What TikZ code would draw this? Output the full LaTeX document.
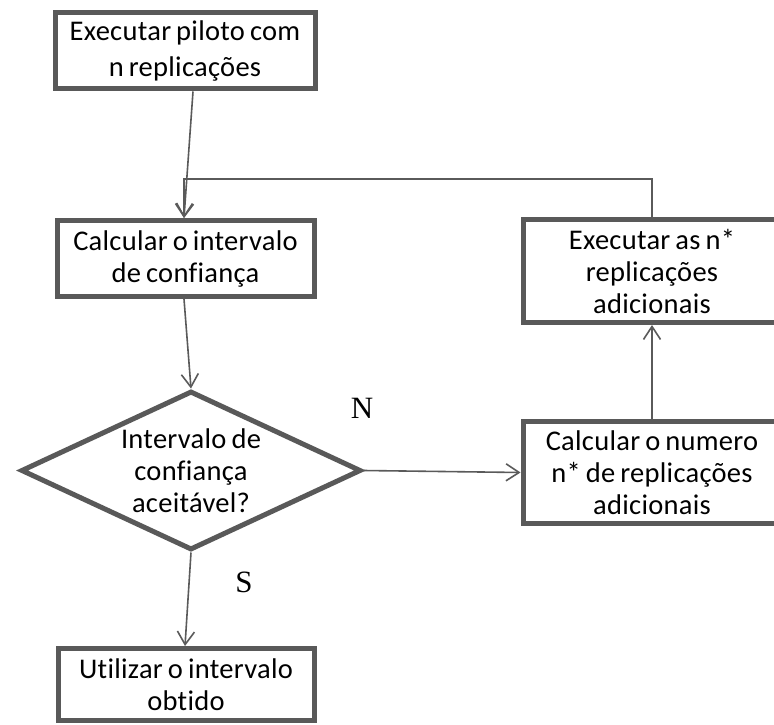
\documentclass[tikz,border=0pt]{standalone}
\usepackage{fontspec}
\setmainfont[Ligatures=NoCommon, LetterSpace=1, WordSpace=0.75]{Carlito}
\newfontfamily\labelfont{Liberation Serif}
\usetikzlibrary{shapes.geometric,arrows.meta}
\definecolor{boxgray}{HTML}{595959}
\definecolor{linegray}{HTML}{5A5A5A}
\begin{document}
\begin{tikzpicture}[x=1pt,y=-1pt,
  stepbox/.style={draw=boxgray, line width=5pt, rectangle, inner sep=0pt,
    align=center, font=\fontsize{28.5}{32}\selectfont},
  decision/.style={draw=boxgray, line width=5pt, diamond, inner sep=0pt},
  steptext/.style={align=center, inner sep=0pt, font=\fontsize{28.5}{32}\selectfont},
  conn/.style={draw=linegray, line width=1.6pt,
    -{Straight Barb[length=13pt,width=17pt,line width=1.6pt]}},
  answer/.style={inner sep=0pt, font=\labelfont\fontsize{31}{34}\selectfont}]
  \clip (0,0) rectangle (774,725);
  \fill[white] (0,0) rectangle (774,725);

  % process boxes
  \node[stepbox, minimum width=260pt, minimum height=76pt, font=\fontsize{28.5}{36}\selectfont] (piloto) at (185,51)
    {Executar piloto com\\n replicações};
  \node[stepbox, minimum width=257pt, minimum height=76pt] (calcic) at (185.5,258.5)
    {Calcular o intervalo\\de confiança};
  \node[stepbox, minimum width=258pt, minimum height=103pt] (execadd) at (652,271)
    {Executar as n*\\replicações\\adicionais};
  \node[stepbox, minimum width=258pt, minimum height=102pt] (calcn) at (652,472.5)
    {Calcular o numero\\n* de replicações\\adicionais};
  \node[stepbox, minimum width=256pt, minimum height=72pt] (utilizar) at (186,684.5)
    {Utilizar o intervalo\\obtido};

  % decision
  \node[decision, minimum width=340pt, minimum height=159pt] (aceita) at (191,470.5) {};
  \node[steptext] (aceitatxt) at (aceita.center) {Intervalo de\\confiança\\aceitável?};

  % answer labels
  \node[answer] (lblN) at (362,408) {N};
  \node[answer] (lblS) at (244,582) {S};

  % connectors
  \coordinate (junction) at (184,179);
  \draw[conn] ([xshift=8pt]piloto.south) -- ([xshift=-1.5pt]calcic.north);
  \draw[conn] (execadd.north) |- (junction) -- ([xshift=-1.5pt]calcic.north);
  \draw[conn] ([xshift=-1.5pt]calcic.south) -- (aceita.north);
  \draw[conn] (aceita.east) -- (calcn.west);
  \draw[conn] (calcn.north) -- (execadd.south);
  \draw[conn] (aceita.south) -- ([xshift=-1pt]utilizar.north);
\end{tikzpicture}
\end{document}
